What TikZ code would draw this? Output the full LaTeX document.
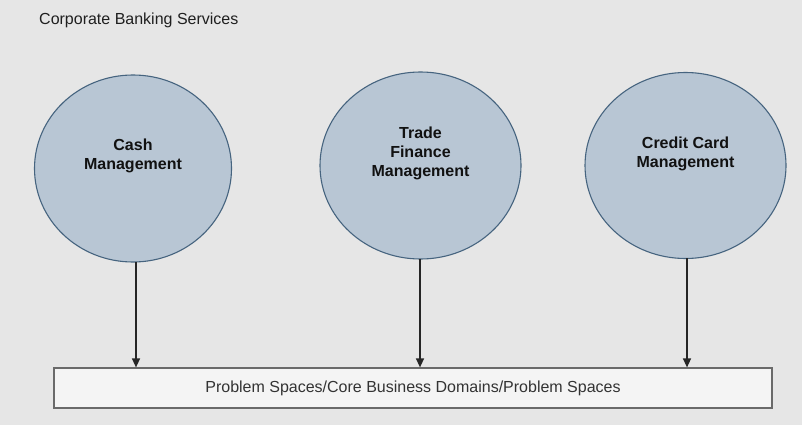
\documentclass[tikz,border=0pt]{standalone}
\usepackage{fontspec}
\setmainfont{Liberation Sans}
\usetikzlibrary{arrows.meta,shapes.geometric}
\definecolor{bgc}{HTML}{E6E6E6}
\definecolor{circfill}{HTML}{B8C6D4}
\definecolor{circline}{HTML}{46647F}
\definecolor{boxfill}{HTML}{F4F4F4}
\definecolor{boxline}{HTML}{6A6A6A}
\definecolor{txt}{HTML}{111111}
\tikzset{
  domaincirc/.style={ellipse, draw=circline, line width=1.1pt, fill=circfill, inner sep=0pt},
  lbl/.style={font=\fontsize{16}{19}\selectfont\bfseries, text=txt, align=center},
  conn/.style={draw=black!85, line width=1.4pt, -{Triangle[length=9pt,width=8pt]}},
  problembox/.style={draw=boxline, line width=1.2pt, fill=boxfill, minimum width=718pt, minimum height=40pt, inner sep=0pt, font=\fontsize{16}{19}\selectfont, text=black!80},
}
\begin{document}
\begin{tikzpicture}[x=1pt,y=-1pt]
\fill[bgc] (0,0) rectangle (802,425);
\useasboundingbox (0,0) rectangle (802,425);
\node[anchor=west, font=\fontsize{16}{19}\selectfont, text=black!88, inner sep=0pt] (title) at (39,20) {Corporate Banking Services};
\node[domaincirc, minimum width=197pt, minimum height=187pt] (cash) at (133,168.5) {};
\node[domaincirc, minimum width=201pt, minimum height=187pt] (trade) at (420.5,165.5) {};
\node[domaincirc, minimum width=201pt, minimum height=186pt] (credit) at (685.5,165.5) {};
\node[lbl] (cashl) at (133,156) {Cash\\Management};
\node[lbl] (tradel) at (420.5,153) {Trade\\Finance\\Management};
\node[lbl] (creditl) at (685.5,154) {Credit Card\\Management};
\node[problembox] (prob) at (413,388) {Problem Spaces/Core Business Domains/Problem Spaces};
\coordinate (s1) at (136,262);
\coordinate (s2) at (420,259);
\coordinate (s3) at (687,258);
\draw[conn] (s1) -- (prob.north -| s1);
\draw[conn] (s2) -- (prob.north -| s2);
\draw[conn] (s3) -- (prob.north -| s3);
\end{tikzpicture}
\end{document}
